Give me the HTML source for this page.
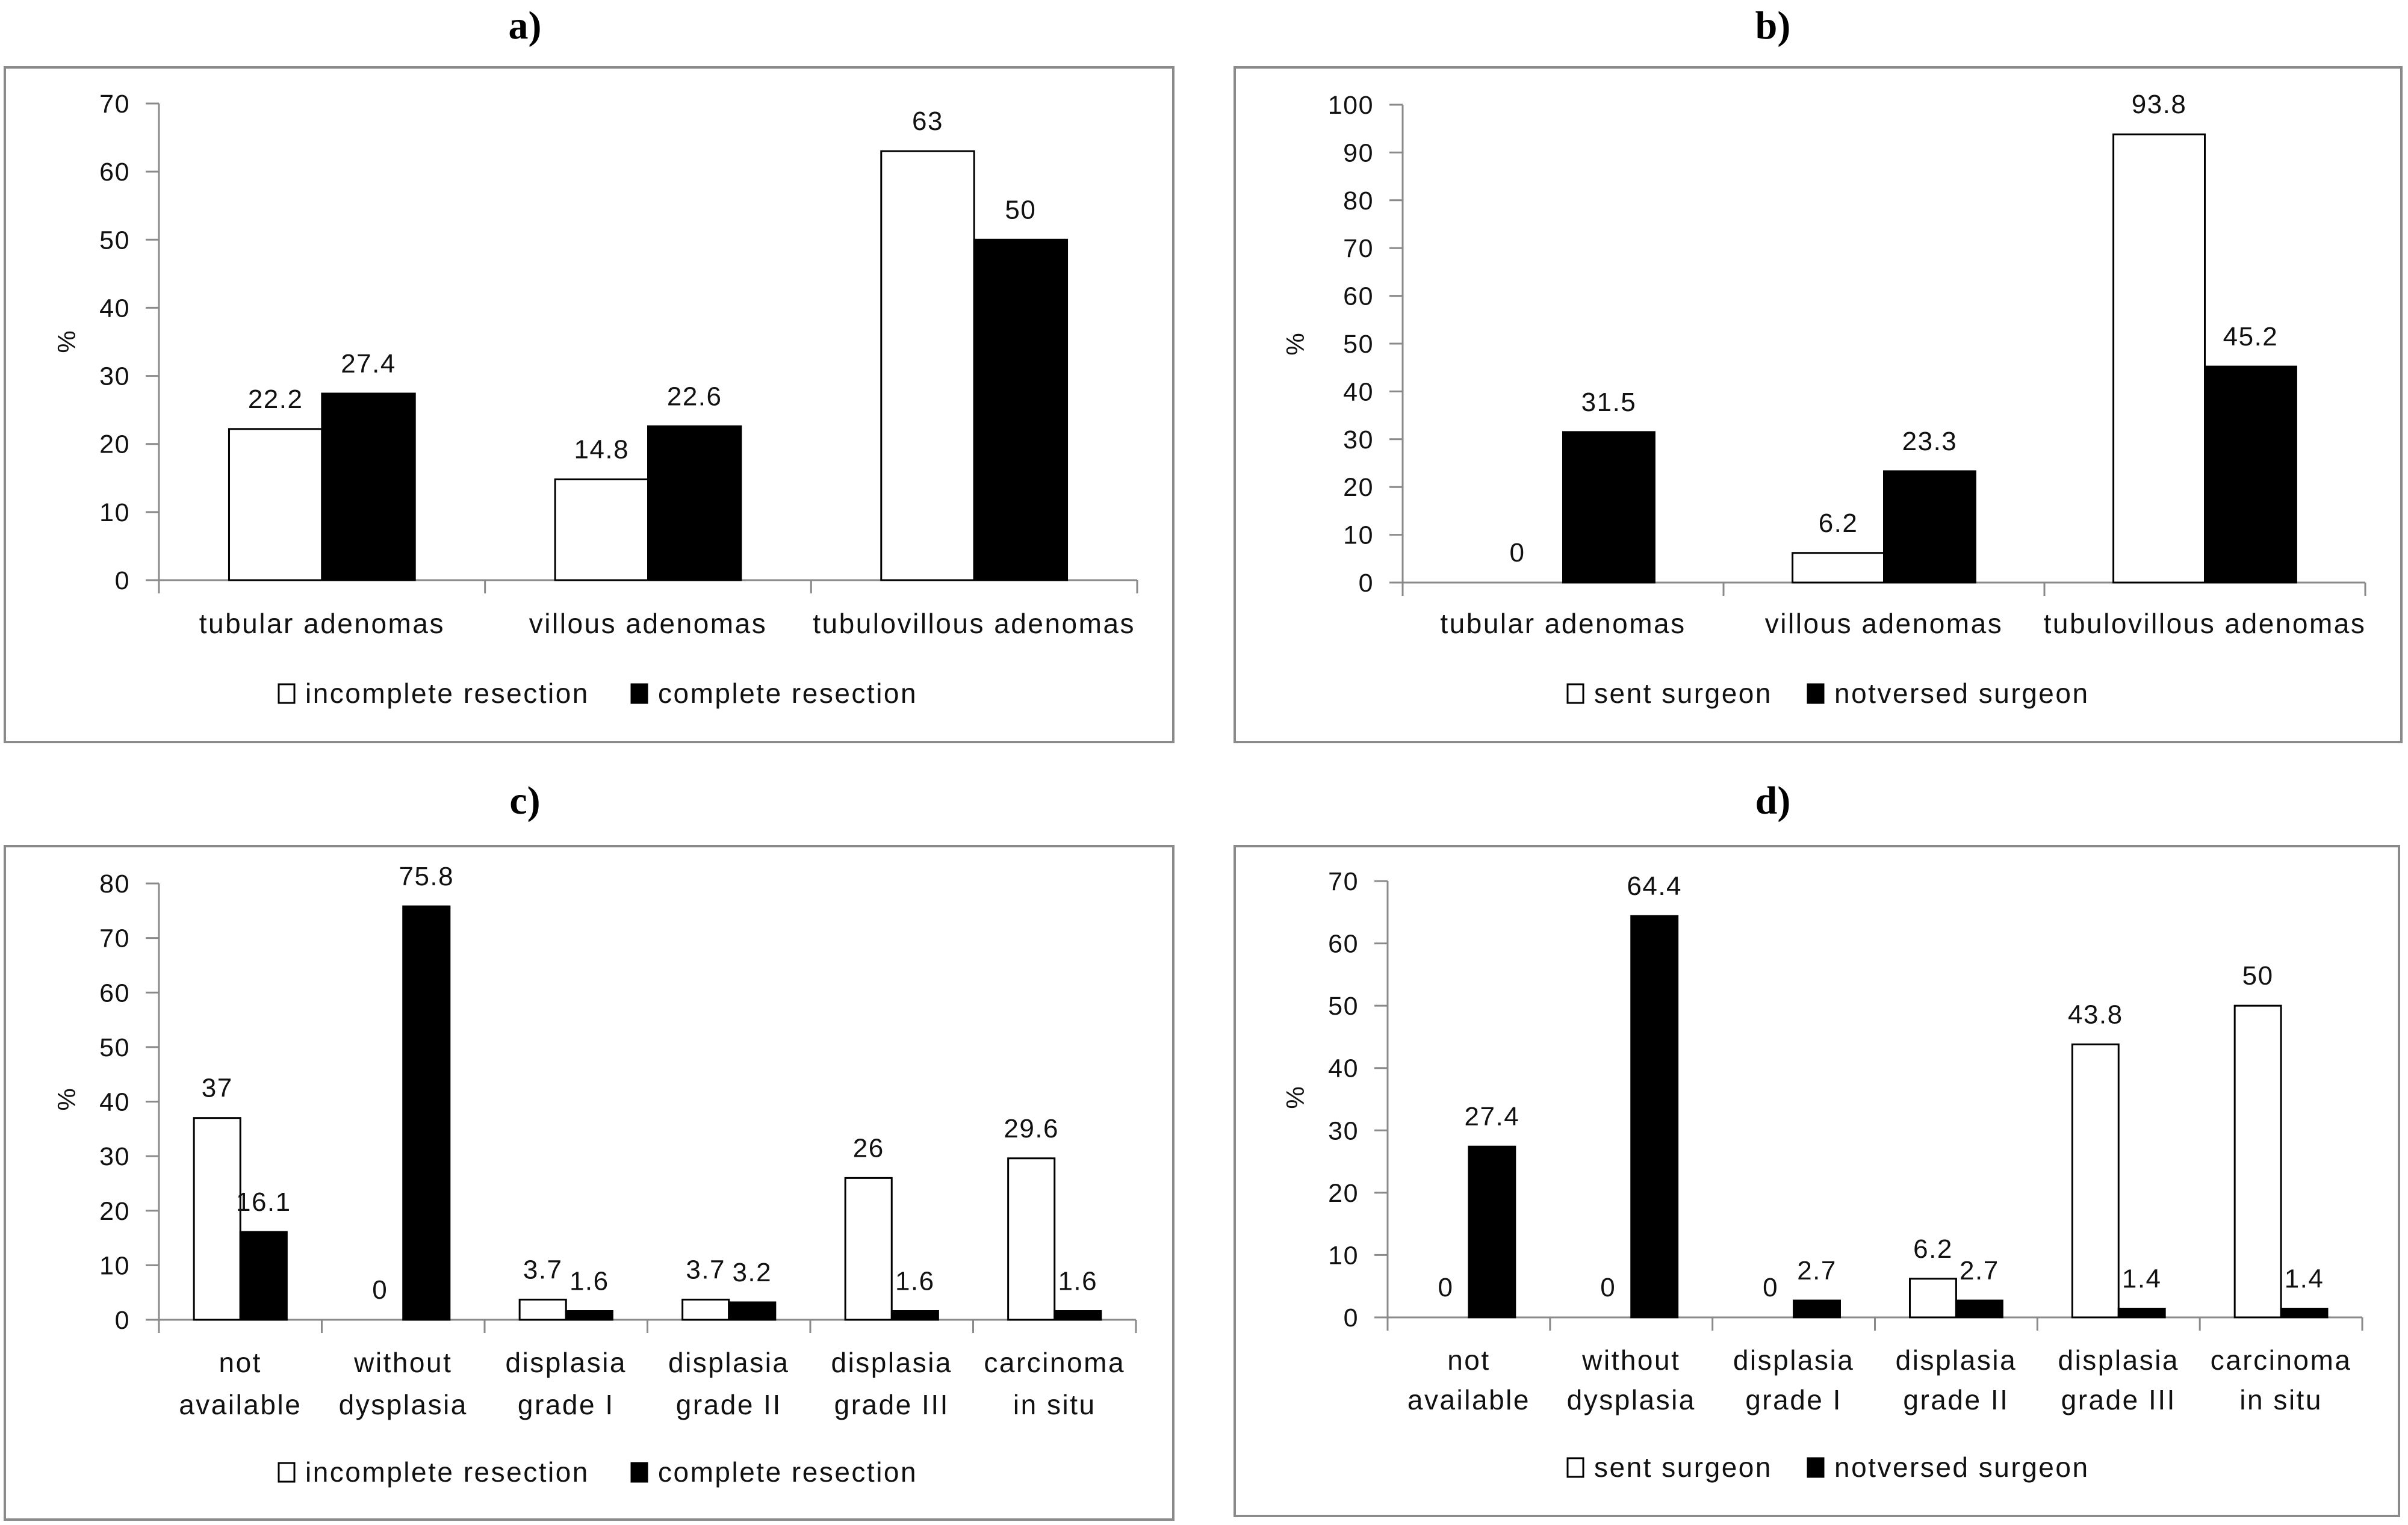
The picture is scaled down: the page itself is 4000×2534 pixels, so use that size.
<!DOCTYPE html>
<html><head><meta charset="utf-8">
<style>
html,body{margin:0;padding:0;background:#fff;}
svg{display:block;}
text{font-family:"Liberation Sans",sans-serif;fill:#111;}
.wide{letter-spacing:2.5px;}
.val{letter-spacing:1.5px;}
.title{font-family:"Liberation Serif",serif;font-weight:bold;fill:#000;}
</style></head>
<body>
<svg id="chart" width="4000" height="2534" viewBox="0 0 4000 2534" xmlns="http://www.w3.org/2000/svg"></svg>
<script>
// Panel a data
const catsA = ["tubular adenomas", "villous adenomas", "tubulovillous adenomas"];
const incompleteA = [22.2, 14.8, 63];
const completeA = [27.4, 22.6, 50];
const ticksA = [0, 10, 20, 30, 40, 50, 60, 70];
// Panel b data
const catsB = ["tubular adenomas", "villous adenomas", "tubulovillous adenomas"];
const sentB = [0, 6.2, 93.8];
const notversedB = [31.5, 23.3, 45.2];
const ticksB = [0, 10, 20, 30, 40, 50, 60, 70, 80, 90, 100];
// Panel c data
const catsC = [["not","available"],["without","dysplasia"],["displasia","grade I"],["displasia","grade II"],["displasia","grade III"],["carcinoma","in situ"]];
const incompleteC = [37, 0, 3.7, 3.7, 26, 29.6];
const completeC = [16.1, 75.8, 1.6, 3.2, 1.6, 1.6];
const ticksC = [0, 10, 20, 30, 40, 50, 60, 70, 80];
// Panel d data
const catsD = [["not","available"],["without","dysplasia"],["displasia","grade I"],["displasia","grade II"],["displasia","grade III"],["carcinoma","in situ"]];
const sentD = [0, 0, 0, 6.2, 43.8, 50];
const notversedD = [27.4, 64.4, 2.7, 2.7, 1.4, 1.4];
const ticksD = [0, 10, 20, 30, 40, 50, 60, 70];

const NS = "http://www.w3.org/2000/svg";
const svg = document.getElementById("chart");
function mk(tag, attrs, parent, txt){
  const e = document.createElementNS(NS, tag);
  for (const k in attrs) e.setAttribute(k, attrs[k]);
  if (txt !== undefined) e.textContent = txt;
  (parent || svg).appendChild(e);
  return e;
}

function panel(p){
  const g = mk("g", {});
  
  
  const t = mk("text", {x:p.titleX, y:p.titleY, "text-anchor":"middle", "font-size":66, class:"title"}, g, p.title);
  
  
  const fr = mk("rect", {x:p.fx, y:p.fy, width:p.fw, height:p.fh, fill:"#fff", stroke:"#8a8a8a", "stroke-width":4}, g);
  
  
  const maxV = p.ticks[p.ticks.length-1];
  const yS = v => p.y0 - (v / maxV) * (p.y0 - p.yTop);
  const n = p.cats.length;
  const gw = (p.x1 - p.x0) / n;
  const xS = i => p.x0 + i * gw;
  const bw = gw * 0.285;
  const ya = mk("line", {x1:p.x0, y1:p.yTop, x2:p.x0, y2:p.y0, stroke:"#8a8a8a", "stroke-width":3}, g);
  
  
  p.ticks.forEach(v => {
    const y = yS(v);
    const tk = mk("line", {x1:p.x0-22, y1:y, x2:p.x0, y2:y, stroke:"#8a8a8a", "stroke-width":3}, g);
    
    
    const tl = mk("text", {x:p.x0-48, y:y+15, "text-anchor":"end", "font-size":43, class:"val"}, g, String(v));
    
    
  });
  const yt = mk("text", {x:0, y:0, "text-anchor":"middle", "font-size":42, transform:`translate(${p.ytX},${p.ytY}) rotate(-90)`}, g, "%");
  
  
  const xa = mk("line", {x1:p.x0, y1:p.y0, x2:p.x1, y2:p.y0, stroke:"#8a8a8a", "stroke-width":3}, g);
  
  
  for (let i = 0; i <= n; i++){
    const tk = mk("line", {x1:xS(i), y1:p.y0, x2:xS(i), y2:p.y0+22, stroke:"#8a8a8a", "stroke-width":3}, g);
    
    
  }
  p.cats.forEach((c, i) => {
    const cx = xS(i) + gw/2;
    const lines = Array.isArray(c) ? c : [c];
    lines.forEach((ln, j) => {
      const tl = mk("text", {x:cx, y:p.labY + j*p.labGap, "text-anchor":"middle", "font-size":46, class:"wide"}, g, ln);
      
      
    });
  });
  [p.s1, p.s2].forEach((ser, si) => {
    ser.forEach((v, i) => {
      const bx = xS(i) + gw/2 - bw + si*bw;
      const top = yS(v);
      if (v > 0){
        const r = mk("rect", {x:bx, y:top, width:bw, height:p.y0-top, fill:si ? "#000" : "#fff", stroke:"#000", "stroke-width":3}, g);
        
        
      }
      const vl = mk("text", {x:bx+bw/2, y:top-35, "text-anchor":"middle", "font-size":44, class:"val"}, g, String(v));
      
      
    });
  });
  const lb1 = mk("rect", {x:p.lx1, y:p.ly-15, width:26, height:31, fill:"#fff", stroke:"#000", "stroke-width":3}, g);
  
  
  const lt1 = mk("text", {x:p.lx1+44, y:p.ly+16, "font-size":46, class:"wide"}, g, p.l1);
  
  
  const lb2 = mk("rect", {x:p.lx2, y:p.ly-15, width:26, height:31, fill:"#000", stroke:"#000", "stroke-width":3}, g);
  
  
  const lt2 = mk("text", {x:p.lx2+44, y:p.ly+16, "font-size":46, class:"wide"}, g, p.l2);
  
  
}

panel({id:"panel-a", title:"a)", titleX:872, titleY:64, fx:8, fy:112, fw:1941, fh:1121,
  x0:264, x1:1889, y0:964, yTop:172, ticks:ticksA, cats:catsA, s1:incompleteA, s2:completeA,
  n1:"incomplete", n2:"complete", labY:1052, labGap:0, ytX:125, ytY:568,
  lx1:463, lx2:1049, ly:1152, l1:"incomplete resection", l2:"complete resection"});
panel({id:"panel-b", title:"b)", titleX:2945, titleY:64, fx:2051, fy:112, fw:1938, fh:1121,
  x0:2330, x1:3929, y0:968, yTop:174, ticks:ticksB, cats:catsB, s1:sentB, s2:notversedB,
  n1:"sent", n2:"notversed", labY:1052, labGap:0, ytX:2166, ytY:572,
  lx1:2604, lx2:3003, ly:1152, l1:"sent surgeon", l2:"notversed surgeon"});
panel({id:"panel-c", title:"c)", titleX:872, titleY:1352, fx:8, fy:1406, fw:1941, fh:1119,
  x0:264, x1:1887, y0:2193, yTop:1468, ticks:ticksC, cats:catsC, s1:incompleteC, s2:completeC,
  n1:"incomplete", n2:"complete", labY:2280, labGap:70, ytX:125, ytY:1827,
  lx1:463, lx2:1049, ly:2446, l1:"incomplete resection", l2:"complete resection"});
panel({id:"panel-d", title:"d)", titleX:2945, titleY:1352, fx:2051, fy:1406, fw:1934, fh:1113,
  x0:2305, x1:3924, y0:2189, yTop:1464, ticks:ticksD, cats:catsD, s1:sentD, s2:notversedD,
  n1:"sent", n2:"notversed", labY:2276, labGap:66, ytX:2166, ytY:1824,
  lx1:2604, lx2:3003, ly:2438, l1:"sent surgeon", l2:"notversed surgeon"});
</script>
</body></html>
